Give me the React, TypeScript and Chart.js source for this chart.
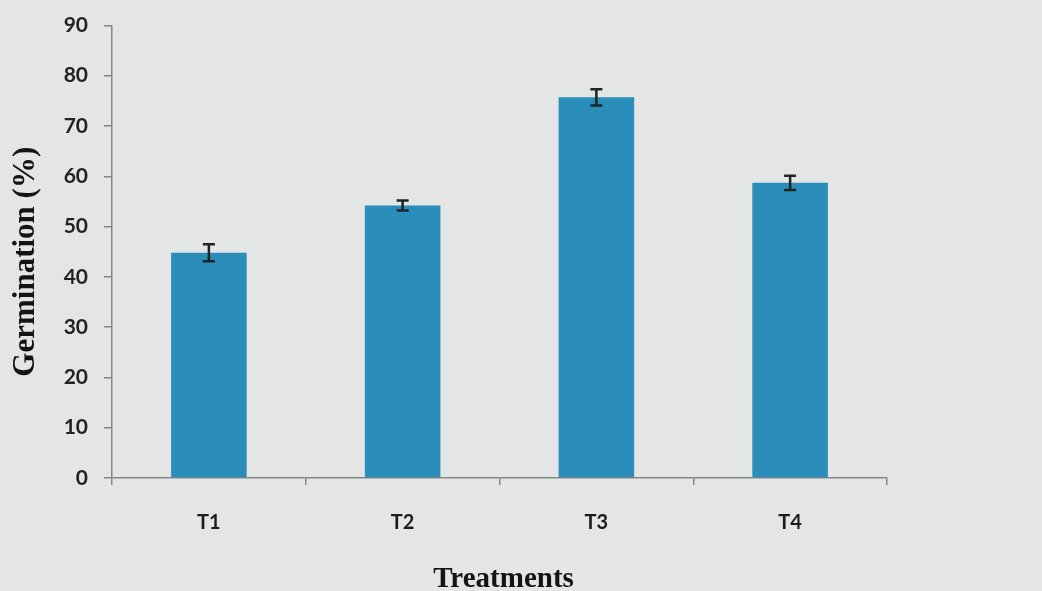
import React, { useEffect, useRef } from "react";
import { Chart, registerables } from "chart.js";

Chart.register(...registerables);

const categories = ["T1", "T2", "T3", "T4"];
const germination = [44.8, 54.2, 75.7, 58.7];
const errors = [1.7, 1.0, 1.6, 1.4];
const yTicks = [0, 10, 20, 30, 40, 50, 60, 70, 80, 90];
const xTitle = "Treatments";
const yTitle = "Germination (%)";

const bgPlugin = {
  id: "bg",
  beforeDraw(chart: any) {
    const ctx = chart.ctx;
    ctx.save();
    ctx.fillStyle = "#e4e6e6";
    ctx.fillRect(0, 0, chart.width, chart.height);
    ctx.restore();
  },
};

const titlesPlugin = {
  id: "titles",
  afterDraw(chart: any) {
    const ctx = chart.ctx;
    const area = chart.chartArea;
    ctx.save();
    ctx.fillStyle = "#141414";
    ctx.textAlign = "center";
    ctx.textBaseline = "middle";
    ctx.font = "bold 31px 'Liberation Serif'";
    ctx.translate(26, (area.top + area.bottom) / 2 + 10);
    ctx.rotate(-Math.PI / 2);
    ctx.fillText(yTitle, 0, 0);
    ctx.restore();
    ctx.save();
    ctx.fillStyle = "#141414";
    ctx.textAlign = "center";
    ctx.textBaseline = "alphabetic";
    ctx.font = "bold 29px 'Liberation Serif'";
    ctx.fillText(xTitle, (area.left + area.right) / 2 + 4, 587);
    ctx.restore();
  },
};

const errorBarPlugin = {
  id: "errbars",
  afterDatasetsDraw(chart: any) {
    const ctx = chart.ctx;
    const meta = chart.getDatasetMeta(0);
    const y = chart.scales.y;
    ctx.save();
    ctx.strokeStyle = "#1e2426";
    ctx.lineWidth = 2.5;
    meta.data.forEach((bar: any, i: number) => {
      const x = bar.x;
      const top = y.getPixelForValue(germination[i] + errors[i]);
      const bot = y.getPixelForValue(germination[i] - errors[i]);
      const cap = 6;
      ctx.beginPath();
      ctx.moveTo(x, top);
      ctx.lineTo(x, bot);
      ctx.moveTo(x - cap, top);
      ctx.lineTo(x + cap, top);
      ctx.moveTo(x - cap, bot);
      ctx.lineTo(x + cap, bot);
      ctx.stroke();
    });
    ctx.restore();
  },
};

export default function App() {
  const ref = useRef<HTMLCanvasElement>(null);
  useEffect(() => {
    const chart = new Chart(ref.current!, {
      type: "bar",
      data: {
        labels: categories,
        datasets: [
          {
            data: germination,
            backgroundColor: "#2a8dba",
            borderWidth: 0,
            barPercentage: 0.39,
            categoryPercentage: 1,
          },
        ],
      },
      options: {
        animation: false,
        responsive: false,
        layout: { padding: { left: 0, right: 155, top: 20, bottom: 0 } },
        plugins: { legend: { display: false }, tooltip: { enabled: false } },
        scales: {
          x: {
            grid: {
              display: true,
              drawOnChartArea: false,
              offset: true,
              tickLength: 7,
              color: "#848787",
              lineWidth: 1.5,
            },
            border: { display: true, color: "#848787", width: 1.5 },
            ticks: {
              color: "#1c1c1c",
              font: { family: "Lato", size: 20, weight: "bold" },
              padding: 26,
            },
            afterFit(scale: any) {
              scale.height = 591 - 478;
            },
          },
          y: {
            min: 0,
            max: 90,
            afterBuildTicks(scale: any) {
              scale.ticks = yTicks.map((v) => ({ value: v }));
            },
            grid: {
              display: true,
              drawOnChartArea: false,
              tickLength: 8,
              color: "#848787",
              lineWidth: 1.5,
            },
            border: { display: true, color: "#848787", width: 1.5 },
            ticks: {
              color: "#222222",
              font: { family: "Lato", size: 21, weight: "bold", lineHeight: 0.9 },
              padding: 16,
            },
            afterFit(scale: any) {
              scale.width = 112;
            },
          },
        },
      },
      plugins: [bgPlugin, errorBarPlugin, titlesPlugin],
    });
    return () => chart.destroy();
  }, []);
  return (
    <div style={{ position: "fixed", left: 0, top: 0, width: 1042, height: 591 }}>
      <canvas ref={ref} width={1042} height={591} style={{ display: "block" }} />
    </div>
  );
}
